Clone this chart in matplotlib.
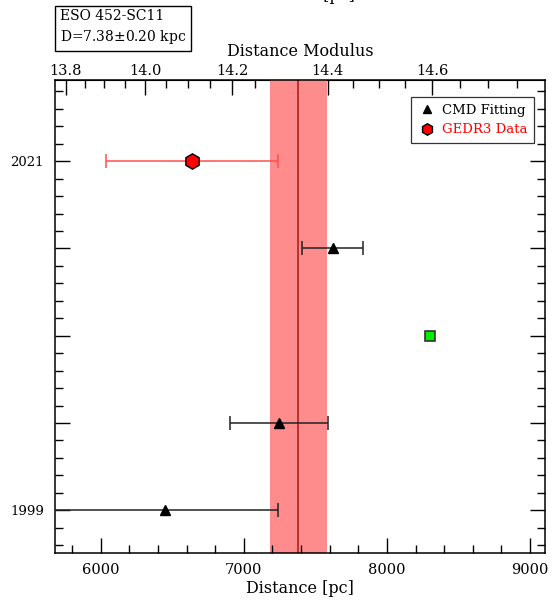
# Distance comparison plot for ESO 452-SC11
import numpy as np
import matplotlib
matplotlib.use('Agg')
import matplotlib.pyplot as plt
from matplotlib.ticker import MultipleLocator, FixedLocator, FixedFormatter

plt.rcParams['font.family'] = ['DejaVu Serif']

# %%
# Data
cluster = 'ESO 452-SC11'
d_mean = 7380.0
d_err = 200.0

# CMD fitting estimates (row position, distance, error)
cmd_rows = [3, 1, 0]
cmd_dist = [7620, 7245, 6450]
cmd_err = [210, 340, 790]

# Gaia EDR3 estimate
gaia_rows = [4]
gaia_dist = [6640]
gaia_err = [600]

# other estimate without error
other_rows = [2]
other_dist = [8300]

year_labels = ['1999', '', '', '', '2021']
mu_ticks = [13.8, 14.0, 14.2, 14.4, 14.6]


def d_to_mu(d):
    d = np.clip(d, 1e-3, None)
    return 5 * np.log10(d) - 5


def mu_to_d(mu):
    return 10 ** ((mu + 5) / 5)


# %%
fig = plt.figure(figsize=(5.52, 6.03), dpi=100)
ax = fig.add_axes([0.0996, 0.0829, 0.8877, 0.7844])

ax.axvspan(d_mean - d_err, d_mean + d_err, color='#ff8c8c', lw=0, zorder=1)
ax.axvline(d_mean, color='#b82828', lw=1.3, zorder=2)

ax.errorbar(cmd_dist, cmd_rows, xerr=cmd_err, fmt='none', ecolor='#222222',
            elinewidth=1.1, capsize=5, capthick=1.1, zorder=3)
ax.plot(cmd_dist, cmd_rows, '^', ms=7.5, color='black', zorder=4,
        label='CMD Fitting', ls='none')

ax.errorbar(gaia_dist, gaia_rows, xerr=gaia_err, fmt='none', ecolor='#ff5050',
            elinewidth=1.1, capsize=5, capthick=1.1, zorder=3)
ax.plot(gaia_dist, gaia_rows, 'h', ms=11, mfc='red', mec='black', mew=1.0,
        zorder=4, label='GEDR3 Data', ls='none')

ax.plot(other_dist, other_rows, 's', ms=7.5, mfc='#00ee00', mec='#333333',
        mew=1.2, zorder=4, ls='none')

ax.set_xlim(5680, 9105)
ax.set_ylim(-0.49, 4.93)

ax.xaxis.set_major_locator(MultipleLocator(1000))
ax.xaxis.set_minor_locator(MultipleLocator(200))
ax.yaxis.set_major_locator(FixedLocator([0, 1, 2, 3, 4]))
ax.yaxis.set_major_formatter(FixedFormatter(year_labels))
ax.yaxis.set_minor_locator(MultipleLocator(0.2))

ax.tick_params(which='both', direction='in', left=True, right=True,
               top=False, bottom=True, labelsize=10.5)
ax.tick_params(which='major', length=11, width=1.0)
ax.tick_params(which='minor', length=6, width=1.0)
ax.tick_params(axis='x', pad=7)
ax.tick_params(axis='y', labelsize=9.5, pad=8)
ax.set_xlabel('Distance [pc]', fontsize=11.5, labelpad=2)

# top axis: distance modulus
sec = ax.secondary_xaxis('top', functions=(d_to_mu, mu_to_d))
sec.xaxis.set_major_locator(FixedLocator(mu_ticks))
sec.xaxis.set_minor_locator(MultipleLocator(0.05))
sec.xaxis.set_major_formatter(plt.FuncFormatter(lambda v, p: f'{v:.1f}'))
sec.tick_params(which='both', direction='in', labelsize=10.5, pad=1.5)
sec.tick_params(which='major', length=11, width=1.0)
sec.tick_params(which='minor', length=6, width=1.0)
sec.set_xlabel('Distance Modulus', fontsize=11.5, labelpad=6)

for s in ax.spines.values():
    s.set_linewidth(1.1)

leg = ax.legend(loc='upper right', fontsize=9.5, frameon=True, fancybox=False,
                edgecolor='black', handletextpad=0.4, borderpad=0.5,
                handlelength=1.5, markerscale=0.75,
                bbox_to_anchor=(0.992, 0.978))
leg.get_frame().set_linewidth(0.9)
for t in leg.get_texts():
    if t.get_text() == 'GEDR3 Data':
        t.set_color('red')

# label box in the top left corner
fig.text(0.108, 0.955, f'{cluster}\nD=7.38$\\pm$0.20 kpc', fontsize=10,
         va='center', ha='left', linespacing=1.4,
         bbox=dict(boxstyle='square,pad=0.35', fc='white', ec='black', lw=1.0))

# clipped label from the panel above
fig.text(0.546, 1 - 4 / 603, 'Distance [pc]', fontsize=11.5, ha='center',
         va='bottom')

fig.savefig('out.png', dpi=100)
